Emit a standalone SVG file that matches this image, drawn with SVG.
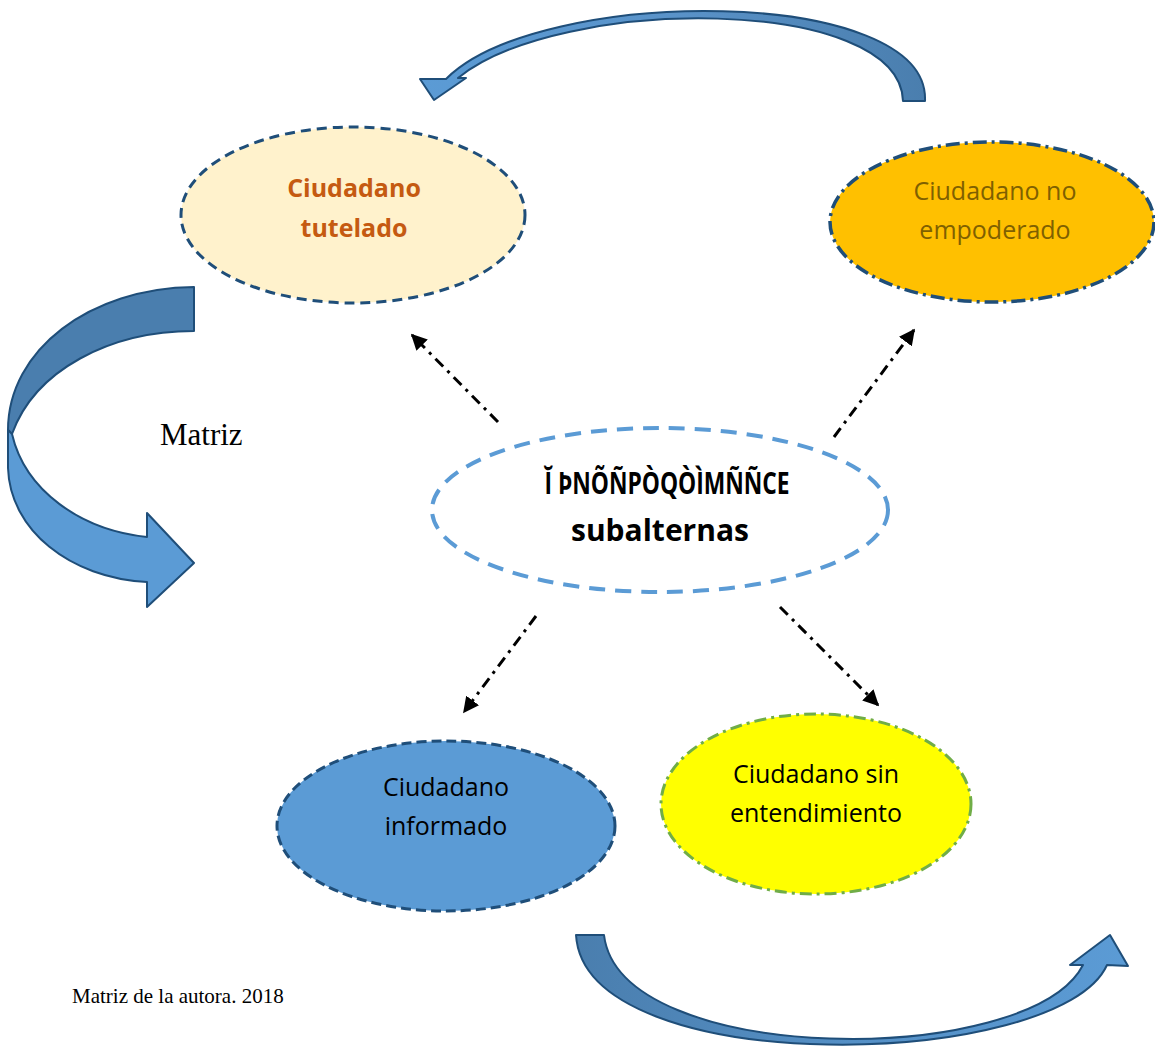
<svg xmlns="http://www.w3.org/2000/svg" width="1155" height="1046" viewBox="0 0 1155 1046">
<style>
.lbl{font-family:"Open Sans","Noto Sans","Liberation Sans",sans-serif;font-size:25px;text-anchor:middle}
.bold{font-weight:bold}
.big-t{font-size:30px}
.conn{stroke:#000;stroke-width:3;fill:none;stroke-dasharray:11 6 3 6}
.big{stroke:#1F4E79;stroke-width:2;stroke-linejoin:round}
.serif{font-family:"Liberation Serif","Times New Roman",serif;fill:#000}
</style>
<defs>
<marker id="ah" viewBox="0 0 10 10" refX="9" refY="5" markerWidth="16" markerHeight="16" markerUnits="userSpaceOnUse" orient="auto">
<path d="M0,0 L10,5 L0,10 Z" fill="#000"/>
</marker>
<linearGradient id="gTop" x1="0" y1="0" x2="1" y2="0">
<stop offset="0" stop-color="#5B9BD5"/><stop offset="0.5" stop-color="#5A93C9"/><stop offset="1" stop-color="#4A7EAE"/>
</linearGradient>
<linearGradient id="gBot" x1="0" y1="0" x2="1" y2="0">
<stop offset="0" stop-color="#4A7EAE"/><stop offset="0.5" stop-color="#5590C6"/><stop offset="1" stop-color="#5B9BD5"/>
</linearGradient>
</defs>

<g id="arrow-top">
<path class="big" fill="url(#gTop)" d="M903,101 C900,-5 560,-5 458,78 L466,78 L434,100 L420,79 L446,79 C540,-15 930,-15 925,101 Z"/>
</g>
<g id="arrow-left">
<path class="big" fill="#4A7EAE" d="M194,287 C90,288 8,350 8,430 L12,434 C35,370 110,331 194,331 Z"/>
<path class="big" fill="#5B9BD5" d="M8,430 L8,468 C10,530 70,578 147,582 L147,607 L194,563 L147,513 L147,537 C80,530 25,490 12,434 Z"/>
</g>
<g id="arrow-bottom">
<path class="big" fill="url(#gBot)" d="M576,935 C585,1082 1060,1070 1107,965 L1128,966 L1110,935 L1070,965 L1083,965 C1030,1068 620,1068 604,935 Z"/>
</g>

<g id="connectors">
<line class="conn" x1="498" y1="422" x2="412" y2="335" marker-end="url(#ah)"/>
<line class="conn" x1="834" y1="437" x2="914" y2="330" marker-end="url(#ah)"/>
<line class="conn" x1="536" y1="616" x2="464" y2="712" marker-end="url(#ah)"/>
<line class="conn" x1="780" y1="607" x2="878" y2="705" marker-end="url(#ah)"/>
</g>

<g id="node-tutelado">
<ellipse cx="353" cy="215" rx="172" ry="88" fill="#FFF2CC" stroke="#1F4E79" stroke-width="3" stroke-dasharray="10 6"/>
<text class="lbl bold" x="354" y="197" fill="#C55A11">Ciudadano</text>
<text class="lbl bold" x="354" y="237" fill="#C55A11">tutelado</text>
</g>
<g id="node-no-empoderado">
<ellipse cx="992" cy="222" rx="162" ry="80" fill="#FFC000" stroke="#1F4E79" stroke-width="3.5" stroke-dasharray="14 5 3 5"/>
<text class="lbl" x="995" y="200" fill="#7F6000">Ciudadano no</text>
<text class="lbl" x="995" y="239" fill="#7F6000">empoderado</text>
</g>
<g id="node-center">
<ellipse cx="660" cy="510" rx="228" ry="82" fill="#FFFFFF" stroke="#5B9BD5" stroke-width="4" stroke-dasharray="16 10"/>
<text class="lbl bold big-t" x="667" y="494" fill="#000" textLength="245" lengthAdjust="spacingAndGlyphs">Ĭ ÞNÕÑPÒQÒÌMÑÑCE</text>
<text class="lbl bold big-t" x="660" y="541" fill="#000">subalternas</text>
</g>
<g id="node-informado">
<ellipse cx="446" cy="826" rx="169" ry="85" fill="#5B9BD5" stroke="#1F4E79" stroke-width="3" stroke-dasharray="10 5"/>
<text class="lbl" x="446" y="796" fill="#000">Ciudadano</text>
<text class="lbl" x="446" y="835" fill="#000">informado</text>
</g>
<g id="node-sin-entendimiento">
<ellipse cx="816" cy="804" rx="155" ry="90" fill="#FFFF00" stroke="#70AD47" stroke-width="3" stroke-dasharray="12 5 3 5"/>
<text class="lbl" x="816" y="783" fill="#000">Ciudadano sin</text>
<text class="lbl" x="816" y="822" fill="#000">entendimiento</text>
</g>

<text class="serif" x="160" y="445" font-size="31">Matriz</text>
<text class="serif" x="72" y="1003" font-size="21">Matriz de la autora. 2018</text>
</svg>
